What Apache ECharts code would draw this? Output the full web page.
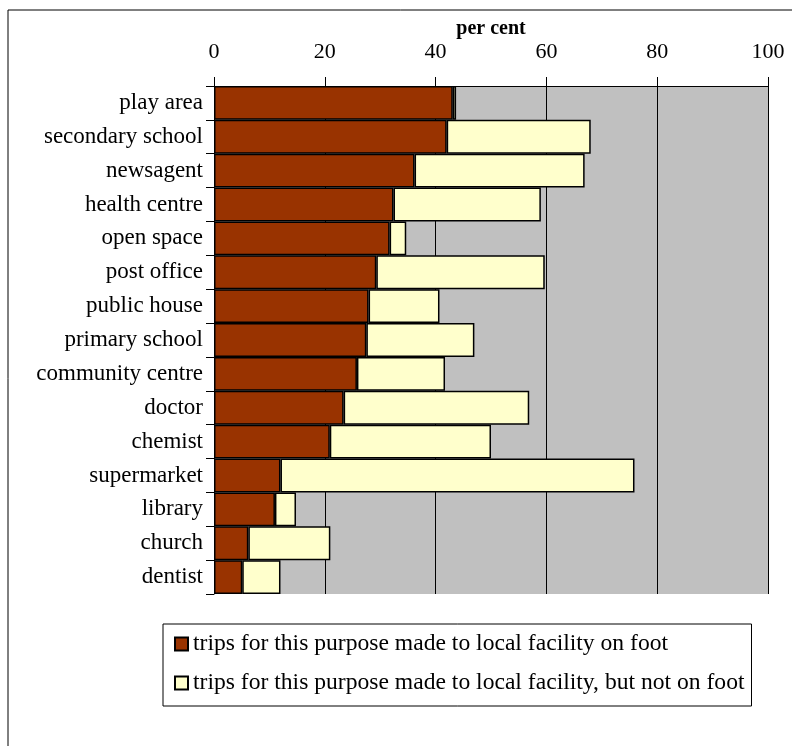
<!DOCTYPE html>
<html>
<head>
<meta charset="utf-8">
<script src="https://cdn.jsdelivr.net/npm/echarts@6/dist/echarts.min.js"></script>
<style>
  html, body { margin: 0; padding: 0; background: #fff; }
  #chart { width: 792px; height: 746px; }
</style>
</head>
<body>
<div id="chart"></div>
<script>
// facilities, top to bottom
const facilities = ['play area', 'secondary school', 'newsagent', 'health centre', 'open space',
  'post office', 'public house', 'primary school', 'community centre', 'doctor',
  'chemist', 'supermarket', 'library', 'church', 'dentist']
// per cent of trips made to the local facility on foot
const onFoot = [43.1, 42.0, 36.2, 32.4, 31.7, 29.3, 27.9, 27.5, 25.8, 23.4, 20.9, 12.0, 11.0, 6.2, 5.1]
// per cent made to the local facility, but not on foot
const notOnFoot = [0.6, 26.0, 30.7, 26.6, 3.0, 30.4, 12.8, 19.5, 15.9, 33.5, 29.1, 63.9, 3.8, 14.8, 6.9]
const seriesNames = ['trips for this purpose made to local facility on foot',
  'trips for this purpose made to local facility, but not on foot']

const serif = 'Liberation Serif'
let myChart = echarts.init(document.getElementById('chart'))

let option = {
    animation: false,
    textStyle: { fontFamily: serif },
    graphic: [{
        type: 'rect',
        shape: { x: 8, y: 10, width: 800, height: 760 },
        style: { fill: 'none', stroke: '#000', lineWidth: 1 },
        z: -10
    }],
    grid: {
        left: 214, right: 24, top: 86, bottom: 152,
        outerBoundsMode: 'none',
        show: true,
        backgroundColor: '#c0c0c0',
        borderWidth: 0
    },
    legend: {
        orient: 'vertical',
        left: 163, top: 624,
        padding: [8, 7, 11, 11],
        itemGap: 15,
        itemWidth: 13, itemHeight: 13,
        borderColor: '#000', borderWidth: 1,
        icon: 'rect',
        textStyle: { fontFamily: serif, fontSize: 23.6, color: '#000' },
        data: seriesNames
    },
    xAxis: {
        type: 'value',
        position: 'top',
        min: 0, max: 100, interval: 20,
        name: 'per cent',
        nameLocation: 'middle',
        nameGap: 47,
        nameMoveOverlap: false,
        nameTextStyle: { fontFamily: serif, fontSize: 20, fontWeight: 'bold', color: '#000' },
        axisLine: { show: true, lineStyle: { color: '#000', width: 1 } },
        axisTick: { show: true, length: 9, lineStyle: { color: '#000' } },
        axisLabel: { margin: 23, fontSize: 22, color: '#000', fontFamily: serif },
        splitLine: { show: true, lineStyle: { color: '#000', width: 1 } }
    },
    yAxis: {
        type: 'category',
        inverse: true,
        data: facilities,
        axisLine: { show: true, lineStyle: { color: '#000', width: 1 } },
        axisTick: { show: true, length: 8, lineStyle: { color: '#000' } },
        axisLabel: { margin: 11, fontSize: 23, color: '#000', fontFamily: serif }
    },
    series: [{
        name: seriesNames[0],
        type: 'bar',
        stack: 'trips',
        barCategoryGap: '0%',
        itemStyle: { color: '#993300', borderColor: '#000', borderWidth: 1.5 },
        data: onFoot
    }, {
        name: seriesNames[1],
        type: 'bar',
        stack: 'trips',
        barCategoryGap: '0%',
        itemStyle: { color: '#ffffcc', borderColor: '#000', borderWidth: 1.5 },
        data: notOnFoot
    }]
}
myChart.setOption(option)
</script>
</body>
</html>
